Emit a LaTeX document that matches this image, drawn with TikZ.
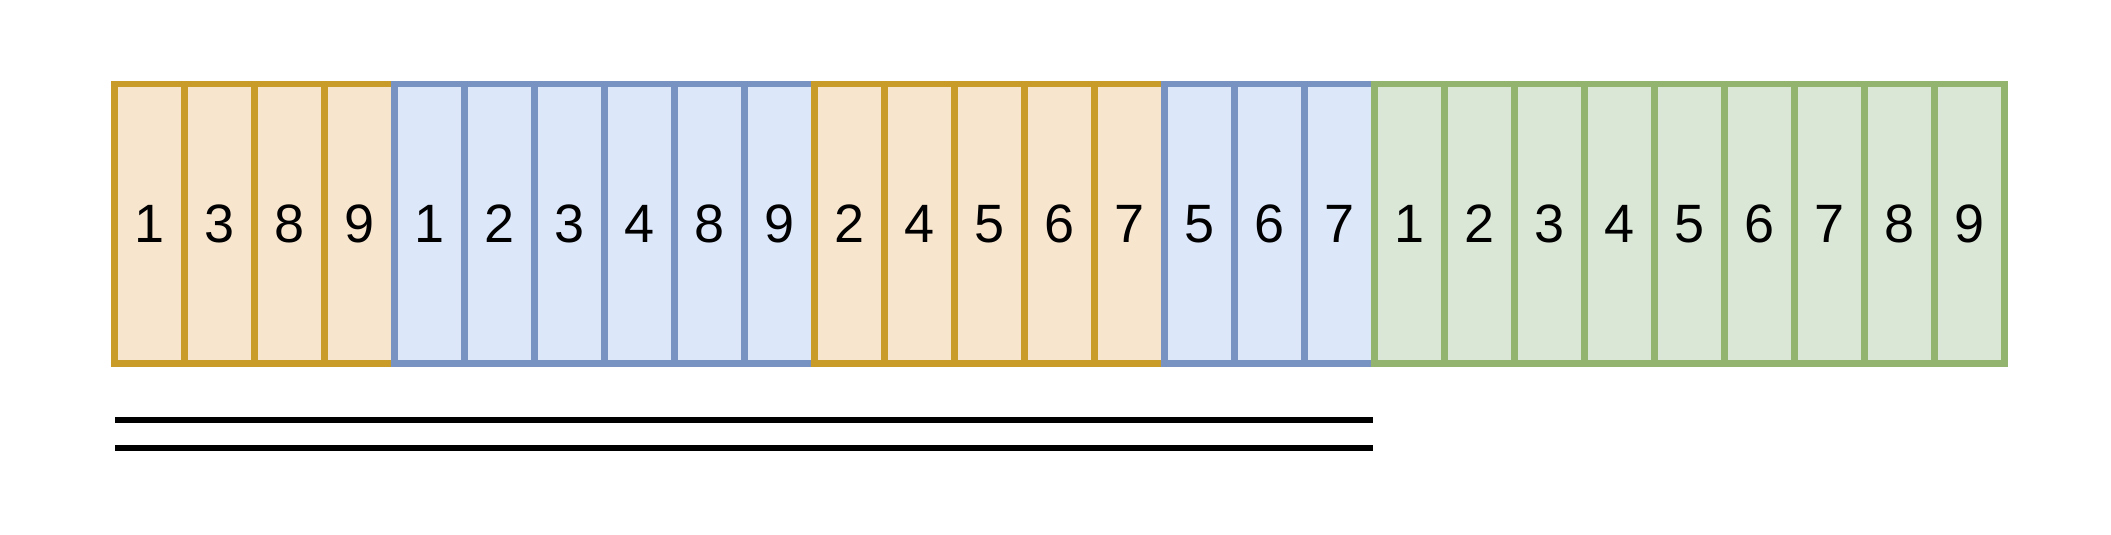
\documentclass[tikz,border=0pt]{standalone}
\usepackage{fontspec}
\setmainfont{Liberation Sans}
\definecolor{ofill}{HTML}{F8E5CE}
\definecolor{odraw}{HTML}{C99B28}
\definecolor{bfill}{HTML}{DCE7FA}
\definecolor{bdraw}{HTML}{7892C2}
\definecolor{gfill}{HTML}{DBE7D6}
\definecolor{gdraw}{HTML}{93B46E}
\tikzset{
  cell/.style={rectangle, inner sep=0pt, minimum width=70pt, minimum height=279.5pt,
    line width=6.5pt, font=\fontsize{54}{60}\selectfont, text=black},
  ocell/.style={cell, fill=ofill, draw=odraw},
  bcell/.style={cell, fill=bfill, draw=bdraw},
  gcell/.style={cell, fill=gfill, draw=gdraw},
  bar/.style={line width=6pt, black}
}
\begin{document}
\begin{tikzpicture}[x=1pt,y=-1pt]
\useasboundingbox (0,0) rectangle (2111,535);
\foreach \i/\s/\t in {1/ocell/1,2/ocell/3,3/ocell/8,4/ocell/9,
  5/bcell/1,6/bcell/2,7/bcell/3,8/bcell/4,9/bcell/8,10/bcell/9,
  11/ocell/2,12/ocell/4,13/ocell/5,14/ocell/6,15/ocell/7,
  16/bcell/5,17/bcell/6,18/bcell/7,
  19/gcell/1,20/gcell/2,21/gcell/3,22/gcell/4,23/gcell/5,24/gcell/6,25/gcell/7,26/gcell/8,27/gcell/9}
{
  \node[\s] (b\i) at ({114.5+70*(\i-0.5)},223.75) {\t};
}
\coordinate (l1a) at (115,419.5);
\coordinate (l1b) at (1373,419.5);
\coordinate (l2a) at (115,447.5);
\coordinate (l2b) at (1373,447.5);
\draw[bar] (l1a) -- (l1b);
\draw[bar] (l2a) -- (l2b);
\end{tikzpicture}
\end{document}
